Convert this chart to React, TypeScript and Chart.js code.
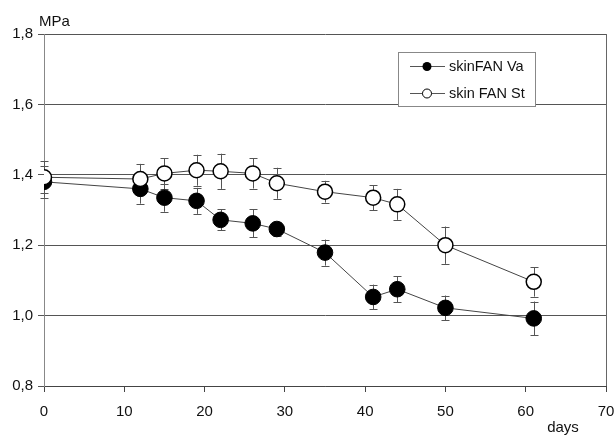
import React, { useEffect, useRef } from "react";
import { Chart, registerables } from "chart.js";

Chart.register(...registerables);

const days = [0, 12, 15, 19, 22, 26, 29, 35, 41, 44, 50, 61];
const vaValues = [1.38, 1.36, 1.335, 1.326, 1.272, 1.262, 1.246, 1.179, 1.053, 1.075, 1.022, 0.992];
const vaErrors = [0.045, 0.042, 0.04, 0.037, 0.03, 0.04, 0.02, 0.037, 0.035, 0.037, 0.035, 0.048];
const stValues = [1.393, 1.388, 1.404, 1.413, 1.41, 1.404, 1.376, 1.352, 1.335, 1.316, 1.2, 1.096];
const stErrors = [0.046, 0.043, 0.043, 0.044, 0.05, 0.043, 0.044, 0.031, 0.035, 0.044, 0.053, 0.042];
const seriesNames = ["skinFAN Va", "skin FAN St"];
const yAxisUnit = "MPa";
const xAxisUnit = "days";

const FONT = "'Liberation Sans', Arial, sans-serif";

export default function App() {
  const ref = useRef<HTMLCanvasElement | null>(null);

  useEffect(() => {
    document.body.style.margin = "0";
    const canvas = ref.current;
    if (!canvas) return;

    const errorBars = {
      id: "errorBars",
      beforeDatasetsDraw(chart: any) {
        const ctx = chart.ctx;
        const xs = chart.scales.x;
        const ys = chart.scales.y;
        ctx.save();
        ctx.strokeStyle = "#555";
        ctx.lineWidth = 1;
        const draw = (vals: number[], errs: number[]) => {
          vals.forEach((v, i) => {
            const px = Math.round(xs.getPixelForValue(days[i])) + 0.5;
            const top = ys.getPixelForValue(v + errs[i]);
            const bot = ys.getPixelForValue(v - errs[i]);
            ctx.beginPath();
            ctx.moveTo(px, top);
            ctx.lineTo(px, bot);
            ctx.moveTo(px - 4, Math.round(top) + 0.5);
            ctx.lineTo(px + 4, Math.round(top) + 0.5);
            ctx.moveTo(px - 4, Math.round(bot) + 0.5);
            ctx.lineTo(px + 4, Math.round(bot) + 0.5);
            ctx.stroke();
          });
        };
        draw(vaValues, vaErrors);
        draw(stValues, stErrors);
        ctx.restore();
      },
    };

    const decor = {
      id: "decor",
      afterDraw(chart: any) {
        const ctx = chart.ctx;
        const a = chart.chartArea;
        ctx.save();
        // right border
        ctx.strokeStyle = "#666";
        ctx.lineWidth = 1;
        ctx.beginPath();
        ctx.moveTo(Math.round(a.right) + 0.5, a.top);
        ctx.lineTo(Math.round(a.right) + 0.5, a.bottom);
        ctx.stroke();

        // axis unit labels
        ctx.fillStyle = "#111";
        ctx.font = `15px ${FONT}`;
        ctx.textBaseline = "middle";
        ctx.textAlign = "left";
        ctx.fillText(yAxisUnit, 39, 22);
        ctx.textAlign = "center";
        ctx.fillText(xAxisUnit, 563, 428);

        // legend
        const lx = 398, ly = 52, lw = 137, lh = 54;
        ctx.fillStyle = "#fff";
        ctx.fillRect(lx, ly, lw, lh);
        ctx.strokeStyle = "#888";
        ctx.strokeRect(lx + 0.5, ly + 0.5, lw, lh);
        const rows = [66, 93];
        rows.forEach((ry, i) => {
          ctx.strokeStyle = "#555";
          ctx.lineWidth = 1;
          ctx.beginPath();
          ctx.moveTo(410, ry + 0.5);
          ctx.lineTo(445, ry + 0.5);
          ctx.stroke();
          ctx.beginPath();
          ctx.arc(427, ry + 0.5, 4.5, 0, Math.PI * 2);
          if (i === 0) {
            ctx.fillStyle = "#000";
            ctx.fill();
          } else {
            ctx.fillStyle = "#fff";
            ctx.fill();
            ctx.strokeStyle = "#000";
            ctx.stroke();
          }
          ctx.fillStyle = "#111";
          ctx.font = `14.5px ${FONT}`;
          ctx.textAlign = "left";
          ctx.textBaseline = "middle";
          ctx.fillText(seriesNames[i], 449, ry + 1);
        });
        ctx.restore();
      },
    };

    const chart = new Chart(canvas, {
      type: "line",
      data: {
        datasets: [
          {
            label: seriesNames[1],
            data: days.map((d, i) => ({ x: d, y: stValues[i] })),
            borderColor: "#444",
            borderWidth: 1,
            pointRadius: 7.5,
            pointBackgroundColor: "#fff",
            pointBorderColor: "#000",
            pointBorderWidth: 1.5,
            pointStyle: "circle",
          },
          {
            label: seriesNames[0],
            data: days.map((d, i) => ({ x: d, y: vaValues[i] })),
            borderColor: "#444",
            borderWidth: 1,
            pointRadius: 7.8,
            pointBackgroundColor: "#000",
            pointBorderColor: "#000",
            pointBorderWidth: 1,
            pointStyle: "circle",
          },
        ],
      },
      options: {
        responsive: false,
        animation: false,
        devicePixelRatio: 1,
        layout: { padding: { top: 34, right: 10, left: 0, bottom: 0 } },
        plugins: {
          legend: { display: false },
          tooltip: { enabled: false },
        },
        scales: {
          x: {
            type: "linear",
            min: 0,
            max: 70,
            ticks: {
              stepSize: 10,
              color: "#111",
              font: { family: FONT, size: 15 },
              padding: 11,
              maxRotation: 0,
            },
            grid: {
              drawOnChartArea: false,
              drawTicks: true,
              tickLength: 6,
              color: "#444",
            },
            border: { display: true, color: "#444", width: 1 },
            afterFit(scale: any) {
              scale.height = 52;
              scale.paddingLeft = 0;
              scale.paddingRight = 0;
            },
          },
          y: {
            type: "linear",
            min: 0.8,
            max: 1.8,
            ticks: {
              stepSize: 0.2,
              color: "#111",
              font: { family: FONT, size: 15 },
              padding: 5,
              callback: (v: any) => Number(v).toFixed(1).replace(".", ","),
            },
            grid: {
              drawOnChartArea: true,
              drawTicks: true,
              tickLength: 6,
              color: "#555",
            },
            border: { display: true, color: "#888", width: 1 },
            afterFit(scale: any) {
              scale.width = 44;
              scale.paddingTop = 0;
              scale.paddingBottom = 0;
            },
          },
        },
      },
      plugins: [errorBars, decor],
    });

    return () => chart.destroy();
  }, []);

  return (
    <div style={{ width: 616, height: 438 }}>
      <canvas ref={ref} width={616} height={438} style={{ display: "block" }} />
    </div>
  );
}
